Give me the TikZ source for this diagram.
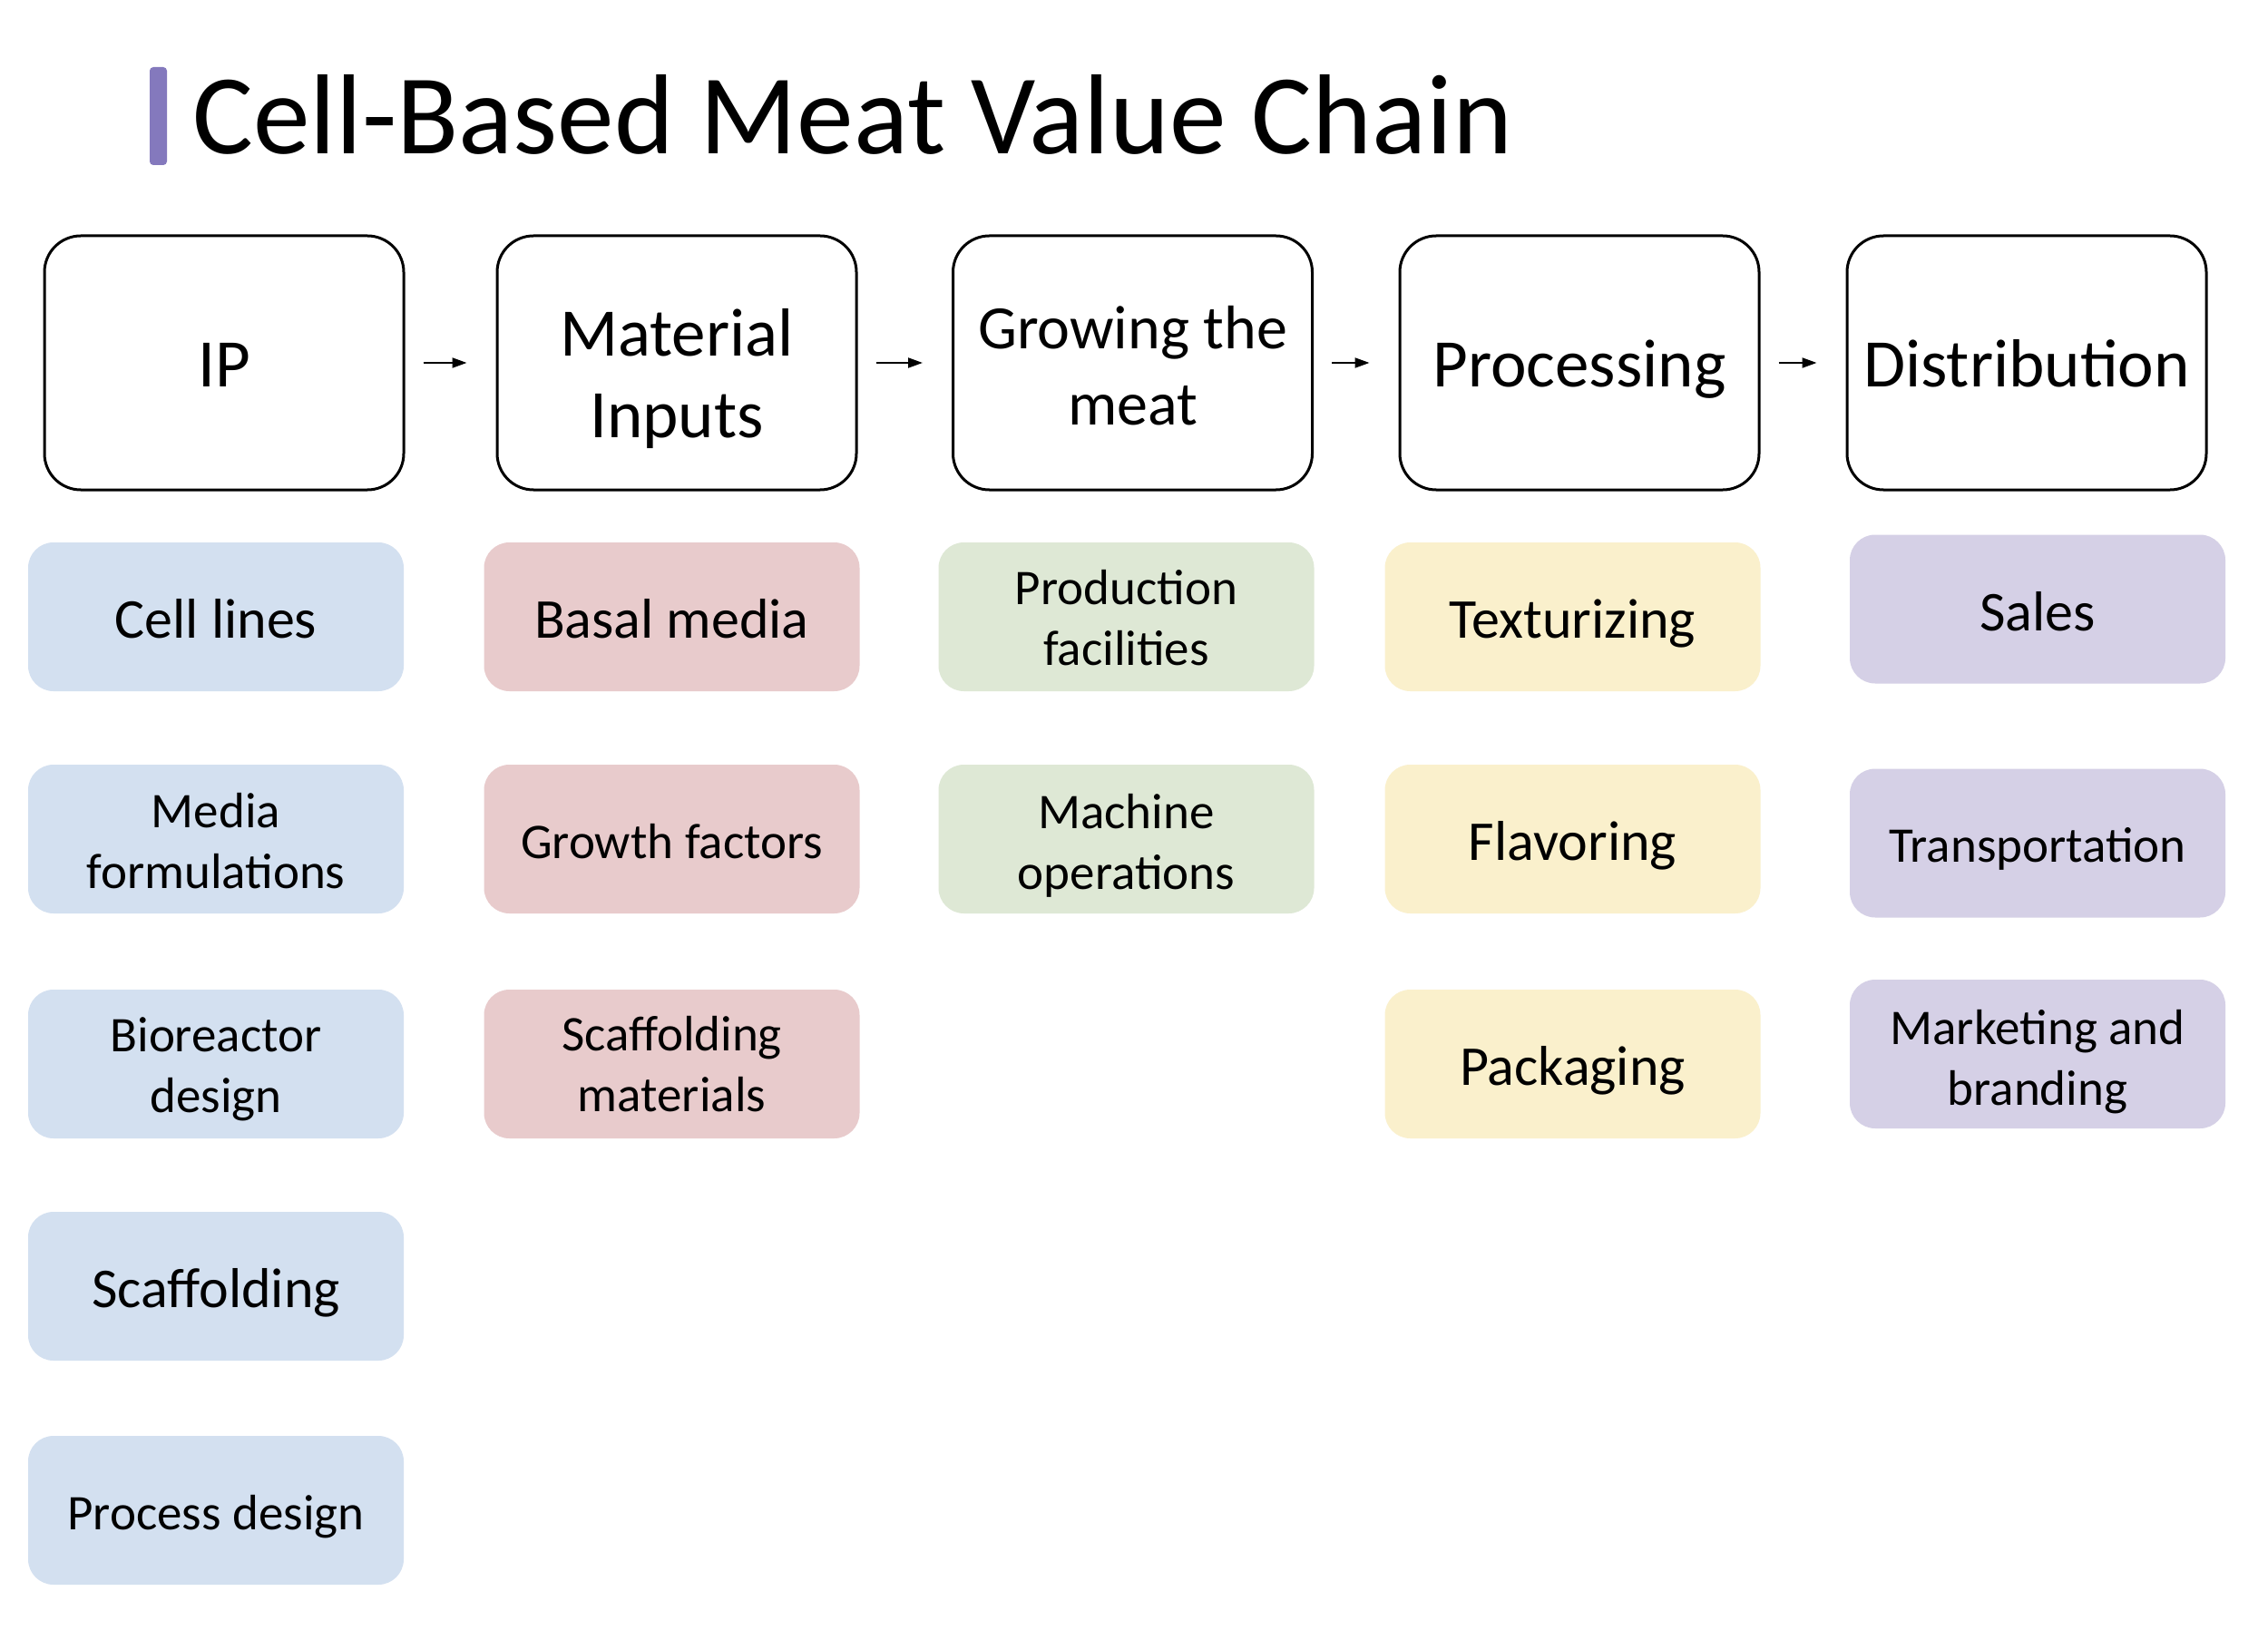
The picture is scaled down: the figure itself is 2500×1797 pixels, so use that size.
\documentclass[tikz,border=0pt]{standalone}
\usepackage{fontspec}
\setmainfont{Carlito}
\usetikzlibrary{arrows.meta}
\definecolor{cblue}{RGB}{211,224,240}
\definecolor{cpink}{RGB}{232,203,204}
\definecolor{cgreen}{RGB}{222,232,213}
\definecolor{cyellow}{RGB}{250,240,204}
\definecolor{cpurple}{RGB}{213,208,230}
\definecolor{cbar}{RGB}{132,121,189}
\newcommand{\twoline}[3]{\raisebox{-#1}[\height][\depth]{\begin{tabular}{@{}c@{}}#2\\#3\end{tabular}}}
\begin{document}
\begin{tikzpicture}[x=0.5pt,y=-0.5pt,
  hdr/.style={draw=black, line width=1.5pt, rounded corners=20pt, minimum width=198pt, minimum height=140pt, align=center, inner sep=0pt, font=\fontsize{37.5}{45}\selectfont},
  hdrone/.style={text height=27pt, text depth=0pt},
  hdrsmall/.style={font=\fontsize{34}{42}\selectfont},
  item/.style={rounded corners=14pt, minimum width=207pt, minimum height=82pt, align=center, inner sep=0pt, font=\fontsize{27.5}{33.5}\selectfont},
  itemone/.style={text height=21pt, text depth=0pt},
  big/.style={font=\fontsize{31}{37}\selectfont},
  bigone/.style={big, text height=23.5pt, text depth=0pt},
  chainarrow/.style={line width=1pt, -{Triangle[length=8pt,width=5.5pt]}, shorten <=10pt, shorten >=16pt}]
\useasboundingbox (0,0) rectangle (2500,1797);
\fill[white] (0,0) rectangle (2500,1797);
% title
\fill[cbar, rounded corners=2pt] (165,74) rectangle (184,182);
\node[anchor=base west, inner sep=0pt, font=\fontsize{62.7}{75}\selectfont] (title) at (212,170) {Cell-Based Meat Value Chain};
% headers
\node[hdr, hdrone] (ip) at (247,400) {IP};
\node[hdr] (mat) at (746,400) {\twoline{10pt}{Material}{Inputs}};
\node[hdr, hdrsmall] (grow) at (1248.5,400) {\twoline{5pt}{Growing the}{meat}};
\node[hdr, hdrone] (proc) at (1741,400) {Processing};
\node[hdr, hdrone] (dist) at (2234,400) {Distribution};
\draw[chainarrow] (ip) -- (mat);
\draw[chainarrow] (mat) -- (grow);
\draw[chainarrow] (grow) -- (proc);
\draw[chainarrow] (proc) -- (dist);
% IP column
\node[item, bigone, fill=cblue] (cell) at (238,680) {Cell lines};
\node[item, fill=cblue] (media) at (238,925) {\twoline{3.8pt}{Media}{formulations}};
\node[item, fill=cblue] (bio) at (238,1173) {\twoline{3.5pt}{Bioreactor}{design}};
\node[item, bigone, fill=cblue] (scaf) at (238,1418) {Scaffolding};
\node[item, itemone, fill=cblue] (pdes) at (238,1665) {Process design};
% Material column
\node[item, bigone, fill=cpink] (basal) at (740.5,680) {Basal media};
\node[item, itemone, fill=cpink] (growth) at (740.5,925) {Growth factors};
\node[item, fill=cpink] (scafm) at (740.5,1173) {\twoline{3pt}{Scaffolding}{materials}};
% Growing column
\node[item, fill=cgreen] (prodf) at (1241.5,680) {\twoline{3.4pt}{Production}{facilities}};
\node[item, fill=cgreen] (mach) at (1241.5,925) {\twoline{4.3pt}{Machine}{operations}};
% Processing column
\node[item, bigone, fill=cyellow] (text) at (1733.5,680) {Texturizing};
\node[item, bigone, fill=cyellow] (flav) at (1733.5,925) {Flavoring};
\node[item, bigone, fill=cyellow] (pack) at (1733.5,1173) {Packaging};
% Distribution column
\node[item, bigone, fill=cpurple] (sales) at (2246,671.5) {Sales};
\node[item, itemone, fill=cpurple] (trans) at (2246,929.5) {Transportation};
\node[item, fill=cpurple] (mark) at (2246,1162) {\twoline{5pt}{Marketing and}{branding}};
\end{tikzpicture}
\end{document}
